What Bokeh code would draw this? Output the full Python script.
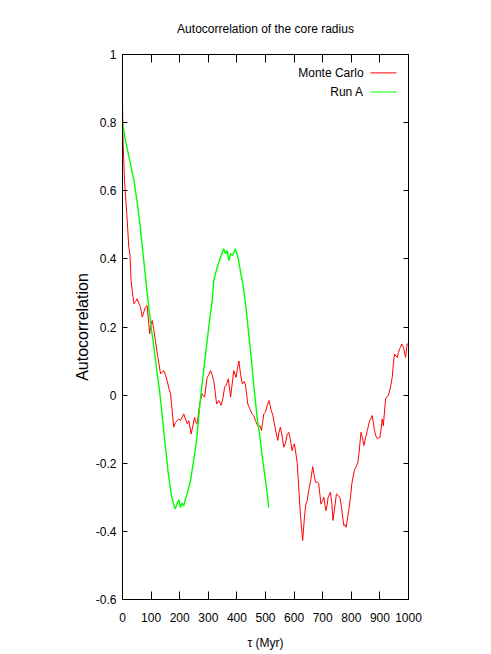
from bokeh.plotting import figure
from bokeh.models import Range1d, LinearAxis, FixedTicker, Label, ColumnDataSource
from bokeh.embed import file_html
from bokeh.resources import INLINE

# ---------------- data ----------------
x_ticks = [0, 100, 200, 300, 400, 500, 600, 700, 800, 900, 1000]
y_ticks = [-0.6, -0.4, -0.2, 0, 0.2, 0.4, 0.6, 0.8, 1]
y_tick_labels = ["-0.6", "-0.4", "-0.2", "0", "0.2", "0.4", "0.6", "0.8", "1"]

mc_tau = [0, 2, 7, 16, 22, 26, 30, 35, 40, 46, 51, 57, 63, 69, 75, 80, 86, 95, 100, 104,
          110, 115, 124, 133, 144, 150, 156, 162, 168, 179, 185, 191, 197, 203, 208, 214,
          220, 226, 232, 240, 246, 252, 256, 261, 270, 278, 287, 296, 302, 308, 313, 319,
          324, 329, 337, 345, 351, 357, 363, 370, 378, 389, 397, 402, 407, 413, 419, 425,
          430, 438, 445, 453, 459, 465, 470, 476, 481, 486, 490, 494, 500, 506, 512, 520,
          526, 531, 537, 543, 547, 552, 558, 564, 570, 576, 581, 587, 593, 597, 601, 606,
          611, 616, 622, 626, 630, 636, 641, 646, 651, 658, 665, 670, 675, 681, 686, 690,
          694, 699, 704, 711, 716, 719, 727, 732, 736, 742, 748, 754, 760, 766, 770, 774,
          778, 782, 787, 791, 797, 802, 806, 811, 817, 823, 827, 830, 834, 839, 844, 850,
          856, 860, 864, 869, 873, 877, 881, 886, 891, 896, 900, 904, 908, 912, 916, 920,
          925, 930, 937, 943, 947, 951, 956, 961, 965, 969, 972, 976, 983, 987, 990, 995, 1000]
mc_acf = [0.855, 0.747, 0.63, 0.52, 0.434, 0.415, 0.336, 0.30, 0.268, 0.275, 0.283, 0.27,
          0.258, 0.229, 0.245, 0.258, 0.263, 0.18, 0.21, 0.219, 0.19, 0.16, 0.11, 0.0625,
          0.072, 0.06, 0.043, 0.02, 0.004, -0.094, -0.08, -0.075, -0.07, -0.075, -0.065,
          -0.055, -0.07, -0.084, -0.075, -0.114, -0.09, -0.065, -0.08, -0.084, -0.026, 0.004,
          -0.006, 0.052, 0.06, 0.072, 0.06, 0.043, 0.01, -0.026, -0.016, -0.03, -0.01, 0.023,
          0.03, 0.048, -0.006, 0.072, 0.052, 0.08, 0.10, 0.06, 0.033, 0.04, 0.03, -0.026,
          -0.04, -0.055, -0.06, -0.075, -0.085, -0.094, -0.09, -0.104, -0.08, -0.055, -0.05,
          -0.03, -0.016, -0.045, -0.06, -0.084, -0.11, -0.133, -0.11, -0.094, -0.12, -0.153,
          -0.14, -0.115, -0.109, -0.13, -0.163, -0.15, -0.143, -0.17, -0.20, -0.27, -0.35,
          -0.39, -0.427, -0.36, -0.32, -0.31, -0.28, -0.25, -0.21, -0.235, -0.256, -0.255,
          -0.26, -0.29, -0.32, -0.31, -0.30, -0.339, -0.32, -0.30, -0.285, -0.32, -0.368,
          -0.33, -0.29, -0.295, -0.30, -0.33, -0.36, -0.383, -0.38, -0.388, -0.36, -0.339,
          -0.30, -0.26, -0.24, -0.22, -0.21, -0.197, -0.17, -0.143, -0.109, -0.125, -0.148,
          -0.125, -0.104, -0.09, -0.075, -0.07, -0.06, -0.08, -0.104, -0.12, -0.128, -0.125,
          -0.124, -0.10, -0.07, -0.09, -0.05, -0.011, -0.005, 0.0, 0.023, 0.052, 0.09, 0.121,
          0.115, 0.111, 0.125, 0.136, 0.14, 0.15, 0.14, 0.12, 0.111, 0.15, 0.15]

runa_tau = [0, 10, 20, 30, 40, 50, 60, 70, 80, 90, 100, 110, 120, 130, 140, 150, 160, 170,
            180, 185, 190, 197, 203, 208, 214, 220, 226, 238, 249, 259, 273, 285, 296, 306,
            314, 319, 331, 345, 354, 360, 366, 372, 378, 385, 395, 405, 413, 420, 430, 440,
            450, 460, 470, 480, 490, 500, 506, 511]
runa_acf = [0.80, 0.75, 0.71, 0.67, 0.63, 0.575, 0.51, 0.43, 0.35, 0.27, 0.20, 0.14, 0.07,
            0.01, -0.07, -0.15, -0.23, -0.29, -0.325, -0.334, -0.32, -0.307, -0.33, -0.317,
            -0.325, -0.305, -0.29, -0.25, -0.19, -0.134, -0.006, 0.08, 0.16, 0.23, 0.278,
            0.336, 0.375, 0.41, 0.43, 0.415, 0.425, 0.395, 0.415, 0.41, 0.43, 0.40, 0.36,
            0.33, 0.27, 0.19, 0.11, 0.02, -0.06, -0.12, -0.19, -0.25, -0.29, -0.33]

series_names = ["Monte Carlo", "Run A"]
series_colors = ["#ff0000", "#00ff00"]

# ---------------- figure ----------------
FONT = "Liberation Sans"

p = figure(width=491, height=654,
           x_range=Range1d(0, 1000), y_range=Range1d(-0.6, 1),
           output_backend="svg", toolbar_location=None,
           min_border_left=122, min_border_right=83,
           min_border_top=54, min_border_bottom=55,
           title="Autocorrelation of the core radius")

p.title.align = "center"
p.title.text_font = FONT
p.title.text_font_size = "12px"
p.title.text_font_style = "normal"
p.title.text_color = "black"
p.title.standoff = 38

p.grid.visible = False
p.outline_line_color = "black"
p.outline_line_width = 1
p.background_fill_color = "white"
p.border_fill_color = "white"

xa = p.xaxis[0]
xa.ticker = FixedTicker(ticks=x_ticks)
ya = p.yaxis[0]
ya.ticker = FixedTicker(ticks=y_ticks)
ya.major_label_overrides = {v: s for v, s in zip(y_ticks, y_tick_labels)}

for ax, tick_len in ((xa, 8), (ya, 5)):
    ax.major_tick_in = tick_len
    ax.major_tick_out = 0
    ax.minor_tick_line_color = None
    ax.axis_line_color = "black"
    ax.major_tick_line_color = "black"
    ax.major_label_text_font = FONT
    ax.major_label_text_font_size = "12px"
    ax.major_label_text_color = "black"

xa.major_label_standoff = 13
xa.axis_label = "τ (Myr)"
xa.axis_label_text_font = FONT
xa.axis_label_text_font_size = "12px"
xa.axis_label_text_font_style = "normal"
xa.axis_label_text_color = "black"
xa.axis_label_standoff = 11

ya.major_label_standoff = 6
ya.axis_label = "Autocorrelation"
ya.axis_label_text_font = FONT
ya.axis_label_text_font_size = "16px"
ya.axis_label_text_font_style = "normal"
ya.axis_label_text_color = "black"
ya.axis_label_standoff = 2

# mirrored tick axes (top / right), without labels
blank_x = {v: "" for v in x_ticks}
blank_y = {v: "" for v in y_ticks}
top = LinearAxis(ticker=FixedTicker(ticks=x_ticks), major_tick_in=8, major_tick_out=0,
                 minor_tick_line_color=None, major_label_overrides=blank_x,
                 major_label_standoff=0, axis_line_color="black",
                 major_tick_line_color="black")
right = LinearAxis(ticker=FixedTicker(ticks=y_ticks), major_tick_in=5, major_tick_out=0,
                   minor_tick_line_color=None, major_label_overrides=blank_y,
                   major_label_standoff=0, axis_line_color="black",
                   major_tick_line_color="black")
p.add_layout(top, "above")
p.add_layout(right, "right")

# ---------------- data lines ----------------
p.line(mc_tau, mc_acf, line_color=series_colors[0], line_width=1)
p.line(runa_tau, runa_acf, line_color=series_colors[1], line_width=1.4)

# ---------------- gnuplot-style key (text left, sample right) ----------------
key_text_x = 843
key_line_x0, key_line_x1 = 867, 958
key_y = [0.946, 0.890]
for name, col, yy in zip(series_names, series_colors, key_y):
    p.add_layout(Label(x=key_text_x, y=yy, text=name, text_align="right",
                       text_baseline="middle", text_font=FONT,
                       text_font_size="12px", text_color="black"))
key_src = ColumnDataSource(dict(x0=[key_line_x0] * 2, x1=[key_line_x1] * 2,
                                y=key_y, c=series_colors))
p.segment(x0="x0", y0="y", x1="x1", y1="y", line_color="c", line_width=1, source=key_src)

open("out.html", "w").write(file_html(p, INLINE))
